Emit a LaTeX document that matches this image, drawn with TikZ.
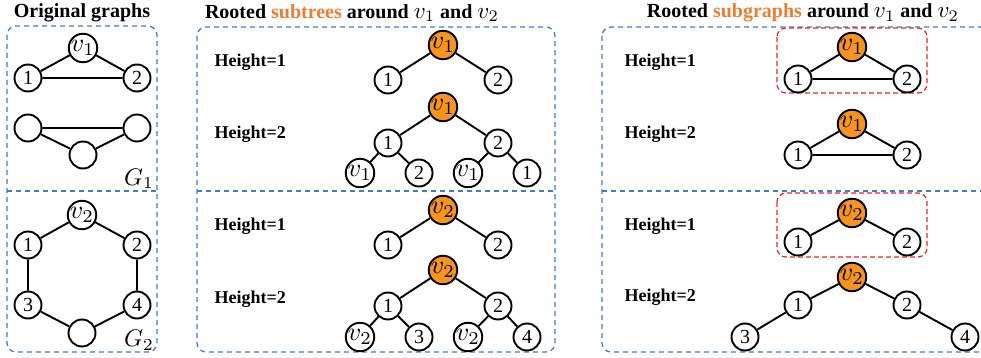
\documentclass[tikz,border=0pt]{standalone}
\usepackage{graphicx}
\usepackage{fontspec}
\setmainfont{Liberation Serif}
\definecolor{boxblue}{HTML}{3A7DC8}
\definecolor{rootfill}{HTML}{F7941D}
\definecolor{titleorange}{HTML}{ED7D31}
\definecolor{groupred}{HTML}{F0202A}
% enlarged math symbols (vertex names, graph names), set from a fixed 10pt base
\newcommand{\vn}[1]{{\fontsize{10}{10}\selectfont\scalebox{2.6}{$v_{#1}$}}}
\newcommand{\tvn}[1]{{\fontsize{10}{10}\selectfont\scalebox{2.3}{$v_{#1}$}}}
\newcommand{\gn}[1]{{\fontsize{10}{10}\selectfont\scalebox{2.4}{$G_{#1}$}}}
\tikzset{
  vert/.style={circle, draw=black, line width=1.9pt, minimum size=27pt, inner sep=0pt,
               fill=white, font=\fontsize{20}{20}\selectfont},
  rootv/.style={vert, fill=rootfill},
  edge/.style={line width=1.9pt},
  panel/.style={draw=boxblue, line width=1.3pt, dash pattern=on 5pt off 4pt, rounded corners=9pt},
  divider/.style={draw=boxblue, line width=1.3pt, dash pattern=on 5pt off 4pt},
  group/.style={draw=groupred, line width=1.2pt, dash pattern=on 5pt off 3pt, rounded corners=9pt},
  title/.style={font=\bfseries\fontsize{20}{20}\selectfont},
  hlabel/.style={anchor=west, font=\bfseries\fontsize{18}{18}\selectfont},
  glabel/.style={inner sep=0pt}
}
\begin{document}
\begin{tikzpicture}[x=1pt,y=-1pt]
\useasboundingbox (0,0) rectangle (981,358);
\clip (0,0) rectangle (981,358);

% titles
\node[title] (t1) at (82,13) {Original graphs};
\node[title] (t2) at (352,13) {Rooted \textcolor{titleorange}{subtrees} around \tvn{1} and \tvn{2}};
\node[title] (t3) at (803,13) {Rooted \textcolor{titleorange}{subgraphs} around \tvn{1} and \tvn{2}};

% panel frames
\draw[panel] (7,26) rectangle (157,352);
\draw[divider] (7,191) -- (157,191);
\draw[panel] (197,27) rectangle (555,352);
\draw[divider] (197,191) -- (555,191);
\draw[panel] (602,27) rectangle (1000,352);
\draw[divider] (602,191) -- (981,191);

% ---------- original graphs ----------
\node[vert] (a0) at (83,48) {\vn{1}};
\node[vert] (a1) at (28,78) {1};
\node[vert] (a2) at (137,78) {2};
\draw[edge] (a0) -- (a1) (a0) -- (a2) (a1) -- (a2);
\node[vert] (b1) at (28,128) {};
\node[vert] (b2) at (137,128) {};
\node[vert] (b3) at (83,155) {};
\draw[edge] (b1) -- (b2) (b1) -- (b3) (b2) -- (b3);
\node[glabel] (g1) at (139,179) {\gn{1}};

\node[vert] (c0) at (82,215) {\vn{2}};
\node[vert] (c1) at (28,245) {1};
\node[vert] (c2) at (137,245) {2};
\node[vert] (c3) at (28,305) {3};
\node[vert] (c4) at (137,305) {4};
\node[vert] (c5) at (82,333) {};
\draw[edge] (c0) -- (c1) (c0) -- (c2) (c1) -- (c3) (c2) -- (c4) (c3) -- (c5) (c4) -- (c5);
\node[glabel] (g2) at (139,340) {\gn{2}};

% ---------- rooted subtrees ----------
\node[hlabel] (h1) at (211,62) {Height=1};
\node[hlabel] (h2) at (211,134) {Height=2};
\node[hlabel] (h3) at (211,226) {Height=1};
\node[hlabel] (h4) at (211,299) {Height=2};

\node[rootv] (s0) at (443,45) {\vn{1}};
\node[vert] (s1) at (388,80) {1};
\node[vert] (s2) at (498,80) {2};
\draw[edge] (s0) -- (s1) (s0) -- (s2);

\node[rootv] (p0) at (443,107) {\vn{1}};
\node[vert] (p1) at (388,143) {1};
\node[vert] (p2) at (498,143) {2};
\node[vert] (p3) at (360,173) {\vn{1}};
\node[vert] (p4) at (419,173) {2};
\node[vert] (p5) at (468,173) {\vn{1}};
\node[vert] (p6) at (527,173) {1};
\draw[edge] (p0) -- (p1) (p0) -- (p2) (p1) -- (p3) (p1) -- (p4) (p2) -- (p5) (p2) -- (p6);

\node[rootv] (q0) at (443,210) {\vn{2}};
\node[vert] (q1) at (388,245) {1};
\node[vert] (q2) at (498,245) {2};
\draw[edge] (q0) -- (q1) (q0) -- (q2);

\node[rootv] (r0) at (443,270) {\vn{2}};
\node[vert] (r1) at (388,306) {1};
\node[vert] (r2) at (498,306) {2};
\node[vert] (r3) at (360,337) {\vn{2}};
\node[vert] (r4) at (419,337) {3};
\node[vert] (r5) at (468,337) {\vn{2}};
\node[vert] (r6) at (527,337) {4};
\draw[edge] (r0) -- (r1) (r0) -- (r2) (r1) -- (r3) (r1) -- (r4) (r2) -- (r5) (r2) -- (r6);

% ---------- rooted subgraphs ----------
\node[hlabel] (k1) at (621,62) {Height=1};
\node[hlabel] (k2) at (621,134) {Height=2};
\node[hlabel] (k3) at (621,226) {Height=1};
\node[hlabel] (k4) at (621,297) {Height=2};

\draw[group] (777,28) rectangle (927,93);
\node[rootv] (u0) at (852,47) {\vn{1}};
\node[vert] (u1) at (798,79) {1};
\node[vert] (u2) at (907,79) {2};
\draw[edge] (u0) -- (u1) (u0) -- (u2) (u1) -- (u2);

\node[rootv] (w0) at (852,124) {\vn{1}};
\node[vert] (w1) at (798,155) {1};
\node[vert] (w2) at (907,155) {2};
\draw[edge] (w0) -- (w1) (w0) -- (w2) (w1) -- (w2);

\draw[group] (777,193) rectangle (927,257);
\node[rootv] (x0) at (852,213) {\vn{2}};
\node[vert] (x1) at (798,242) {1};
\node[vert] (x2) at (907,242) {2};
\draw[edge] (x0) -- (x1) (x0) -- (x2);

\node[rootv] (y0) at (852,277) {\vn{2}};
\node[vert] (y1) at (798,305) {1};
\node[vert] (y2) at (907,305) {2};
\node[vert] (y3) at (745,337) {3};
\node[vert] (y4) at (965,337) {4};
\draw[edge] (y0) -- (y1) (y0) -- (y2) (y1) -- (y3) (y2) -- (y4);
\end{tikzpicture}
\end{document}
